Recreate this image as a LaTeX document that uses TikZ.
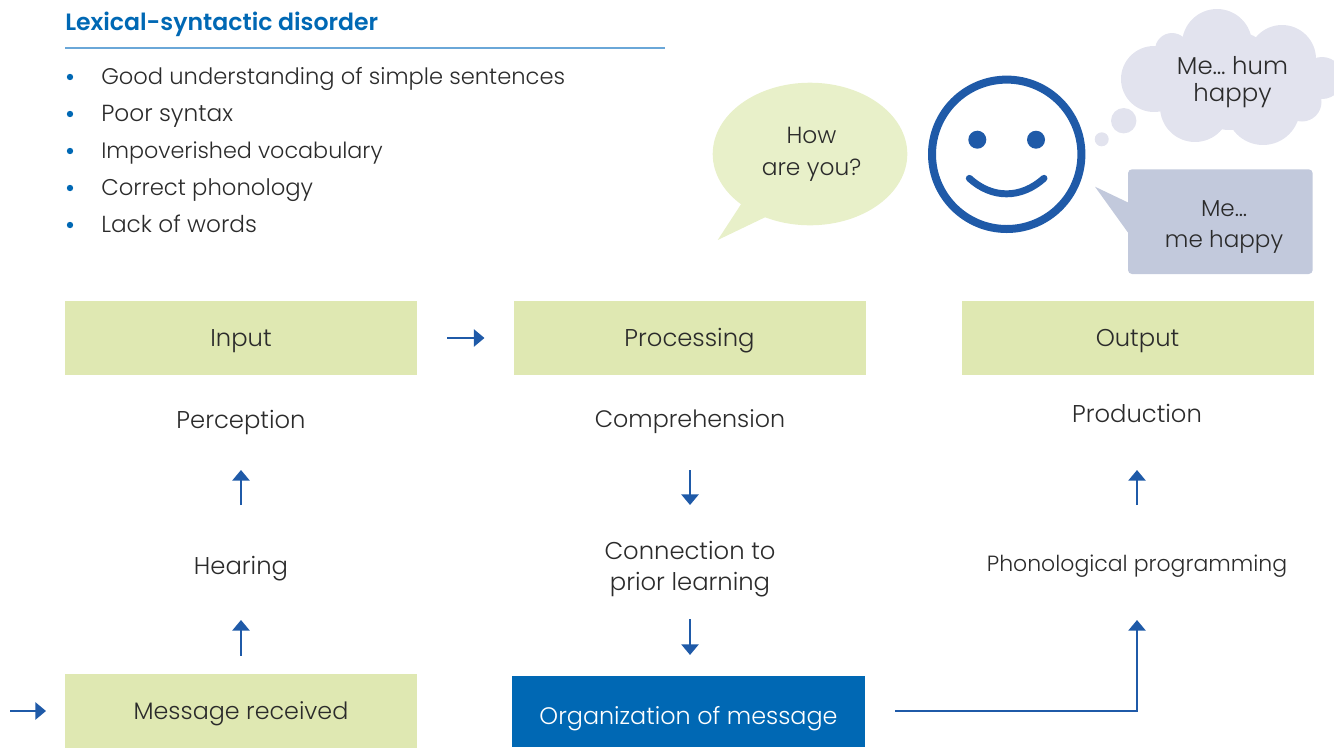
\documentclass[tikz,border=0pt]{standalone}
\usepackage{fontspec}
\setmainfont{Poppins}[UprightFont=* Light,BoldFont=* SemiBold]
\usetikzlibrary{arrows.meta}
\definecolor{arrowblue}{HTML}{1F5AA8}
\definecolor{titleblue}{HTML}{0068B4}
\definecolor{lineblue}{HTML}{6AA7D8}
\definecolor{boxgreen}{HTML}{DFE8B2}
\definecolor{bubgreen}{HTML}{E8F0C9}
\definecolor{cloudcol}{HTML}{E2E3EE}
\definecolor{rectcol}{HTML}{C2C9DC}
\definecolor{inkcol}{HTML}{2B2B2B}
\newcommand{\boxtext}[2]{\raisebox{-#1}[0pt][0pt]{#2}}
\tikzset{
  x=0.75pt,y=-0.75pt,
  fs/.style={font=\fontsize{#1}{24}\selectfont},
  txt/.style={inner sep=0pt,align=center,text=inkcol,fs=18.2,anchor=center},
  listtxt/.style={txt,anchor=base west},
  bull/.style={circle,fill=titleblue,inner sep=0pt,minimum size=4.8pt},
  gbox/.style={txt,fill=boxgreen,minimum width=264pt,minimum height=56pt},
  arr/.style={draw=arrowblue,line width=1.3pt,-{Triangle[length=8pt,width=13pt]}},
}
\begin{document}
\begin{tikzpicture}
\useasboundingbox (0,0) rectangle (1334,747);
\clip (0,0) rectangle (1334,747);
% heading
\node[anchor=base west,inner sep=0pt,text=titleblue,font=\fontsize{17.7}{20}\selectfont\bfseries] (title) at (65,30) {Lexical-syntactic disorder};
\coordinate (ruleL) at (65,48);
\coordinate (ruleR) at (665,48);
\draw[draw=lineblue,line width=1.1pt] (ruleL) -- (ruleR);
% list
\foreach \n/\yy/\sz/\t in {a/84/16.95/Good understanding of simple sentences,b/121/17.45/Poor syntax,c/158/16.7/Impoverished vocabulary,d/195/17.05/Correct phonology,e/232/17.4/Lack of words}{
  \node[bull] (bul\n) at (70,\yy-7) {};
  \node[listtxt,fs=\sz] (li\n) at (101,\yy) {\t};
}
% speech bubble
\fill[bubgreen] (810,154) ellipse [x radius=97.3,y radius=71.3];
\fill[bubgreen] (717.7,240) -- (749,192) -- (774,213) -- cycle;
\node[txt,fs=17.5] (how) at (811.5,154.5) {How\\[-0.5pt]are you?};
% smiley
\draw[arrowblue,line width=6pt] (1006.7,154.3) circle [radius=74.7];
\fill[arrowblue] (977.3,139.7) circle [radius=9];
\fill[arrowblue] (1036,139.7) circle [radius=9];
\draw[arrowblue,line width=5.2pt,line cap=round] (969.3,178.3) .. controls (992,199) and (1021,199) .. (1044,178.3);
% thought cloud
\fill[cloudcol] (1217,44) circle [radius=35] (1282,59) circle [radius=34] (1154,79) circle [radius=33]
  (1172,50) circle [radius=17] (1322,78) circle [radius=21] (1302,102) circle [radius=19.5]
  (1195,107) circle [radius=35] (1263,108) circle [radius=37]
  (1230,80) circle [radius=50];
\fill[cloudcol] (1123.7,120.7) circle [radius=12.7] (1101.7,139.3) circle [radius=7];
\node[txt,fs=18.3] (hum) at (1232.5,82) {Me\dots\ hum\\[-4pt]happy};
% spoken box
\fill[rectcol,rounded corners=3pt] (1128,169.3) rectangle (1312.7,274);
\fill[rectcol] (1095,186.7) -- (1128.5,202.7) -- (1128.5,233.3) -- cycle;
\node[txt,fs=17.3] (mehappy) at (1224,227) {Me\dots\\[-0.5pt]me happy};
% boxes
\node[gbox] (input) at (241,338) {\boxtext{6.4pt}{Input}};
\node[gbox] (proc) at (689.5,338) {\boxtext{6.4pt}{Processing}};
\node[gbox] (output) at (1137.5,338) {\boxtext{6.4pt}{Output}};
\node[gbox,fs=17.85,minimum height=55pt] (msg) at (241,711) {\boxtext{6pt}{Message received}};
\node[txt,fs=17.9,fill=titleblue,text=white,minimum width=265pt,minimum height=53.5pt] (org) at (688.5,711.5) {\boxtext{9.4pt}{Organization of message}};
% stages
\node[txt] (perc) at (241,422) {Perception};
\node[txt] (hear) at (241,569) {Hearing};
\node[txt,fs=17.85] (comp) at (690,422) {Comprehension};
\node[txt] (conn) at (690,569) {Connection to\\[-1pt]prior learning};
\node[txt] (prod) at (1137,413) {Production};
\node[txt,fs=16.5] (phon) at (1137,566) {Phonological programming};
% connectors
\coordinate (inL) at (10,711);
\coordinate (orgout) at (895,711);
\draw[arr,shorten >=146.25pt] (inL) -- (msg.center);
\draw[arr,shorten <=154.5pt,shorten >=153.75pt] (input.center) -- (proc.center);
\draw[arr,shorten <=41.6pt,shorten >=38.25pt] (msg.center) -- (hear.center);
\draw[arr,shorten <=48pt,shorten >=36pt] (hear.center) -- (perc.center);
\draw[arr,shorten <=36pt,shorten >=48pt] (comp.center) -- (conn.center);
\draw[arr,shorten <=37.5pt,shorten >=42.4pt] (conn.center) -- (conn.center |- org.center);
\draw[arr,shorten <=45.75pt,shorten >=42.75pt] (phon.center) -- (prod.center);
\draw[arr,shorten >=40.5pt] (orgout) -| (phon.center);
\end{tikzpicture}
\end{document}
